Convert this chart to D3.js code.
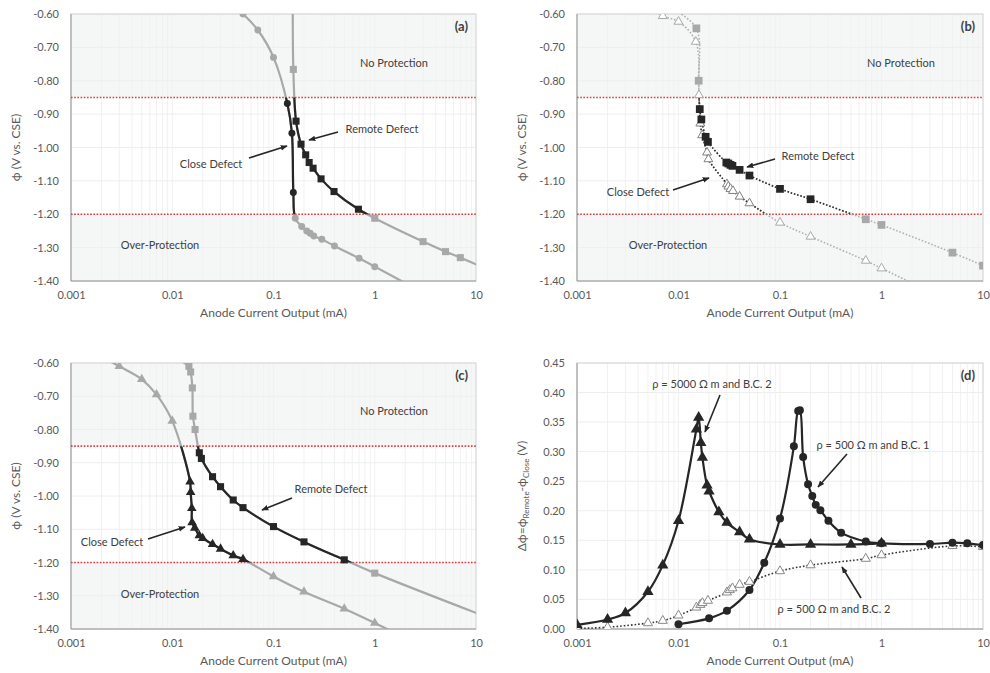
<!DOCTYPE html>
<html><head><meta charset="utf-8">
<script src="https://cdn.jsdelivr.net/npm/d3@7"></script>
<style>
body{margin:0;background:#fff;}
text{font-family:Lato,'Open Sans',sans-serif;}
</style>
</head><body>
<svg id="chart" width="990" height="673"></svg>
<script>
// ---------------- DATA ----------------
const xTicks = [0.001, 0.01, 0.1, 1, 10];
const phiTicks = [-0.6, -0.7, -0.8, -0.9, -1.0, -1.1, -1.2, -1.3, -1.4];
const dphiTicks = [0, 0.05, 0.10, 0.15, 0.20, 0.25, 0.30, 0.35, 0.40, 0.45];
const protectionLimits = [-0.85, -1.20];

// (a)
const aClose = [[0.05,-0.60],[0.07,-0.648],[0.10,-0.730],[0.137,-0.868],[0.152,-0.957],[0.157,-1.135],[0.164,-1.212],[0.19,-1.237],[0.213,-1.250],[0.23,-1.257],[0.25,-1.265],[0.30,-1.275],[0.40,-1.295],[0.70,-1.332],[1.0,-1.357],[2.5,-1.422]];
const aRemote = [[0.155,-0.58],[0.157,-0.766],[0.167,-0.921],[0.187,-0.990],[0.208,-1.022],[0.225,-1.045],[0.246,-1.062],[0.295,-1.094],[0.396,-1.132],[0.69,-1.185],[1.0,-1.212],[3.0,-1.282],[5.0,-1.312],[7.0,-1.330],[13,-1.365]];
// (b)
const bClose = [[0.0056,-0.585],[0.007,-0.606],[0.010,-0.623],[0.0148,-0.683],[0.0159,-0.843],[0.0164,-0.928],[0.0171,-0.963],[0.0191,-1.015],[0.0197,-1.035],[0.030,-1.110],[0.031,-1.117],[0.0325,-1.124],[0.0344,-1.130],[0.040,-1.147],[0.050,-1.167],[0.1,-1.225],[0.2,-1.267],[0.7,-1.339],[1.0,-1.362],[2.5,-1.42]];
const bRemote = [[0.0088,-0.585],[0.015,-0.643],[0.0158,-0.800],[0.0162,-0.885],[0.0168,-0.916],[0.0185,-0.968],[0.0195,-0.983],[0.0296,-1.045],[0.0310,-1.048],[0.0325,-1.052],[0.034,-1.055],[0.040,-1.067],[0.050,-1.084],[0.1,-1.124],[0.2,-1.155],[0.7,-1.215],[1.0,-1.232],[5.0,-1.315],[10,-1.354]];
// (c)
const cClose = [[0.0021,-0.585],[0.003,-0.610],[0.005,-0.649],[0.007,-0.695],[0.010,-0.774],[0.015,-0.957],[0.0152,-0.989],[0.0156,-1.037],[0.0157,-1.080],[0.0167,-1.096],[0.0185,-1.119],[0.020,-1.127],[0.025,-1.145],[0.030,-1.159],[0.040,-1.179],[0.050,-1.190],[0.1,-1.242],[0.2,-1.288],[0.5,-1.339],[1.0,-1.382],[1.8,-1.42]];
const cRemote = [[0.0105,-0.585],[0.0146,-0.610],[0.0152,-0.627],[0.0158,-0.675],[0.016,-0.760],[0.0168,-0.800],[0.0185,-0.870],[0.0194,-0.887],[0.025,-0.942],[0.030,-0.972],[0.040,-1.012],[0.050,-1.035],[0.1,-1.092],[0.2,-1.138],[0.5,-1.192],[1.0,-1.232],[13,-1.365]];
// (d)
const d5000bc2 = [[0.001,0.007],[0.002,0.016],[0.003,0.027],[0.005,0.063],[0.007,0.108],[0.010,0.183],[0.015,0.338],[0.0158,0.358],[0.0166,0.315],[0.0172,0.290],[0.0191,0.243],[0.020,0.233],[0.025,0.198],[0.030,0.180],[0.040,0.164],[0.050,0.152],[0.1,0.143],[0.2,0.143],[0.5,0.143],[1.0,0.145]];
const d500bc1 = [[0.010,0.008],[0.020,0.018],[0.030,0.031],[0.050,0.066],[0.070,0.112],[0.1,0.187],[0.137,0.309],[0.151,0.369],[0.157,0.370],[0.169,0.291],[0.189,0.245],[0.208,0.225],[0.225,0.210],[0.25,0.201],[0.3,0.183],[0.4,0.163],[0.7,0.148],[1.0,0.145],[3.0,0.144],[5.0,0.146],[7.0,0.145],[10,0.142]];
const d500bc2 = [[0.001,0.001],[0.002,0.003],[0.005,0.010],[0.007,0.014],[0.010,0.023],[0.015,0.0365],[0.0164,0.041],[0.0172,0.044],[0.0195,0.048],[0.030,0.062],[0.032,0.066],[0.034,0.069],[0.040,0.075],[0.050,0.080],[0.1,0.098],[0.2,0.108],[0.7,0.119],[1.0,0.125],[5.0,0.1405],[10,0.139]];

// ---------------- DRAW ----------------
const svg = d3.select('#chart');
const GRAY = '#a8a8a8', DARK = '#262626', TXT = '#404040', AX = '#595959';

svg.append('defs').append('marker')
  .attr('id','arrow').attr('viewBox','0 0 10 10').attr('refX',9).attr('refY',5)
  .attr('markerWidth',7).attr('markerHeight',7).attr('markerUnits','userSpaceOnUse')
  .attr('orient','auto')
  .append('path').attr('d','M0,1 L10,5 L0,9 Z').attr('fill',DARK);

const panels = [
  {id:'a', l:71, r:476, t:14, b:281, kind:'phi', label:'(a)'},
  {id:'b', l:577, r:983, t:14, b:281, kind:'phi', label:'(b)'},
  {id:'c', l:71, r:476, t:363, b:629, kind:'phi', label:'(c)'},
  {id:'d', l:577, r:983, t:363, b:629, kind:'dphi', label:'(d)'}
];

function setup(p){
  const g = svg.append('g');
  const x = d3.scaleLog().domain([0.001,10]).range([p.l,p.r]);
  const y = p.kind==='phi' ? d3.scaleLinear().domain([-1.4,-0.6]).range([p.b,p.t])
                           : d3.scaleLinear().domain([0,0.45]).range([p.b,p.t]);
  const defs = svg.select('defs');
  defs.append('clipPath').attr('id','clip-'+p.id).append('rect')
    .attr('x',p.l).attr('y',p.t).attr('width',p.r-p.l).attr('height',p.b-p.t);
  if(p.kind==='phi'){
    defs.append('clipPath').attr('id','band-'+p.id).append('rect')
      .attr('x',p.l).attr('y',y(protectionLimits[0])).attr('width',p.r-p.l)
      .attr('height',y(protectionLimits[1])-y(protectionLimits[0]));
    g.append('rect').attr('x',p.l).attr('y',p.t).attr('width',p.r-p.l).attr('height',p.b-p.t).attr('fill','#f5f7f7');
    g.append('rect').attr('x',p.l).attr('y',y(protectionLimits[0])).attr('width',p.r-p.l)
      .attr('height',y(protectionLimits[1])-y(protectionLimits[0])).attr('fill','#fff');
  }
  // grid
  const minor = [];
  [0.001,0.01,0.1,1].forEach(d=>{for(let k=2;k<=9;k++) minor.push(k*d);});
  const vg = minor.concat(xTicks);
  g.append('g').selectAll('line').data(vg).join('line')
    .attr('x1',d=>x(d)).attr('x2',d=>x(d)).attr('y1',p.t).attr('y2',p.b)
    .attr('stroke','#f1f1f1').attr('stroke-width',1);
  const yt = p.kind==='phi'?phiTicks:dphiTicks;
  g.append('g').selectAll('line').data(yt).join('line')
    .attr('x1',p.l).attr('x2',p.r).attr('y1',d=>y(d)).attr('y2',d=>y(d))
    .attr('stroke','#eeeeee').attr('stroke-width',1);
  // frame
  g.append('rect').attr('x',p.l).attr('y',p.t).attr('width',p.r-p.l).attr('height',p.b-p.t)
    .attr('fill','none').attr('stroke','#d4d4d4');
  g.append('line').attr('x1',p.l).attr('x2',p.l).attr('y1',p.t).attr('y2',p.b).attr('stroke','#9a9a9a');
  g.append('line').attr('x1',p.l).attr('x2',p.r).attr('y1',p.b).attr('y2',p.b).attr('stroke','#9a9a9a');
  // protection limit lines
  if(p.kind==='phi'){
    g.append('g').selectAll('line').data(protectionLimits).join('line')
      .attr('x1',p.l).attr('x2',p.r).attr('y1',d=>y(d)).attr('y2',d=>y(d))
      .attr('stroke','#e23b3b').attr('stroke-width',1.6).attr('stroke-dasharray','1.6,1.6');
  }
  // axes
  const ax = g.append('g').attr('transform',`translate(0,${p.b})`)
    .call(d3.axisBottom(x).tickValues(xTicks).tickFormat(d=>String(d)).tickSize(0).tickPadding(10));
  const ay = g.append('g').attr('transform',`translate(${p.l},0)`)
    .call(d3.axisLeft(y).tickValues(yt).tickFormat(d=>d.toFixed(2)).tickSize(0).tickPadding(12));
  [ax,ay].forEach(a=>{a.select('.domain').remove();
    a.selectAll('text').attr('font-family','Lato, sans-serif').attr('font-size',11).attr('fill',AX);});
  // titles
  g.append('text').attr('x',(p.l+p.r)/2).attr('y',p.b+36).attr('text-anchor','middle')
    .attr('font-size',12).attr('fill',AX).text('Anode Current Output (mA)');
  const cy = (p.t+p.b)/2, tx = p.l-51;
  const yl = g.append('text').attr('transform',`translate(${tx},${cy}) rotate(-90)`)
    .attr('text-anchor','middle').attr('font-size',12).attr('fill',AX);
  if(p.kind==='phi'){ yl.text('ϕ (V vs. CSE)'); }
  else {
    yl.append('tspan').text('Δϕ=ϕ');
    yl.append('tspan').attr('font-size',8).attr('dy',3).text('Remote');
    yl.append('tspan').attr('dy',-3).text('-ϕ');
    yl.append('tspan').attr('font-size',8).attr('dy',3).text('Close');
    yl.append('tspan').attr('dy',-3).text(' (V)');
  }
  g.append('text').attr('x',p.r-8).attr('y',p.t+17).attr('text-anchor','end')
    .attr('font-size',13).attr('font-weight','bold').attr('fill',TXT).text(p.label);
  return {g,x,y};
}

const line = (x,y)=>d3.line().x(d=>x(d[0])).y(d=>y(d[1])).curve(d3.curveCatmullRom.alpha(0.5));

function drawLines(P, pid, pts, o){
  const lg = P.g.append('g').attr('clip-path',`url(#clip-${pid})`);
  lg.append('path').datum(pts).attr('d',line(P.x,P.y)).attr('fill','none')
    .attr('stroke',o.outColor).attr('stroke-width',o.width).attr('stroke-dasharray',o.dash||null);
  if(o.inColor){
    lg.append('g').attr('clip-path',`url(#band-${pid})`).append('path').datum(pts)
      .attr('d',line(P.x,P.y)).attr('fill','none')
      .attr('stroke',o.inColor).attr('stroke-width',o.width).attr('stroke-dasharray',o.dash||null);
  }
}
function drawMarkers(P, pid, pts, o){
  const mg = P.g.append('g').attr('clip-path',`url(#clip-${pid})`);
  const inBand = d => o.banded && d[1] <= protectionLimits[0]+0.001 && d[1] >= protectionLimits[1]-0.001;
  mg.selectAll('path').data(pts).join('path')
    .attr('transform',d=>`translate(${P.x(d[0])},${P.y(d[1])})`)
    .attr('d',d3.symbol().type(o.symbol).size(o.size))
    .attr('fill',d=> o.fill==='band' ? (inBand(d)?DARK:GRAY) : o.fill)
    .attr('stroke',d=> o.stroke==='band' ? (inBand(d)?'#808080':GRAY) : (o.stroke||'none'))
    .attr('stroke-width',o.sw||1);
}

const [pa,pb,pc,pd] = panels;
const A = setup(pa), B = setup(pb), C = setup(pc), D = setup(pd);

// (a)
drawLines(A,'a',aClose,{outColor:GRAY,inColor:DARK,width:2.2});
drawLines(A,'a',aRemote,{outColor:GRAY,inColor:DARK,width:2.2});
drawMarkers(A,'a',aClose,{symbol:d3.symbolCircle,size:38,fill:'band',banded:true});
drawMarkers(A,'a',aRemote,{symbol:d3.symbolSquare,size:50,fill:'band',banded:true});
// (b)
drawLines(B,'b',bClose,{outColor:'#b0b0b0',inColor:'#303030',width:1.6,dash:'1.6,1.8'});
drawLines(B,'b',bRemote,{outColor:'#b0b0b0',inColor:'#303030',width:1.6,dash:'1.6,1.8'});
drawMarkers(B,'b',bClose,{symbol:d3.symbolTriangle,size:34,fill:'#fff',stroke:'band',banded:true,sw:1});
drawMarkers(B,'b',bRemote,{symbol:d3.symbolSquare,size:60,fill:'band',banded:true});
// (c)
drawLines(C,'c',cClose,{outColor:GRAY,inColor:DARK,width:2.2});
drawLines(C,'c',cRemote,{outColor:GRAY,inColor:DARK,width:2.2});
drawMarkers(C,'c',cClose,{symbol:d3.symbolTriangle,size:40,fill:'band',banded:true});
drawMarkers(C,'c',cRemote,{symbol:d3.symbolSquare,size:50,fill:'band',banded:true});
// (d)
drawLines(D,'d',d500bc2,{outColor:'#333',width:1.6,dash:'1.6,2'});
drawLines(D,'d',d5000bc2,{outColor:DARK,width:2.2});
drawLines(D,'d',d500bc1,{outColor:DARK,width:2.2});
drawMarkers(D,'d',d500bc2,{symbol:d3.symbolTriangle,size:36,fill:'#fff',stroke:'#888',sw:1});
drawMarkers(D,'d',d5000bc2,{symbol:d3.symbolTriangle,size:55,fill:DARK});
drawMarkers(D,'d',d500bc1,{symbol:d3.symbolCircle,size:50,fill:DARK});

// ---------------- ANNOTATIONS ----------------
function label(x,y,t){ svg.append('text').attr('x',x).attr('y',y).attr('text-anchor','middle')
  .attr('dominant-baseline','middle').attr('font-size',11).attr('fill',TXT).text(t); }
function arrow(x1,y1,x2,y2){ svg.append('line').attr('x1',x1).attr('y1',y1).attr('x2',x2).attr('y2',y2)
  .attr('stroke',DARK).attr('stroke-width',1.6).attr('marker-end','url(#arrow)'); }

// (a)
label(394,64,'No Protection'); label(382,130,'Remote Defect'); label(211,165,'Close Defect'); label(160,246,'Over-Protection');
arrow(338,132,309,140); arrow(249,158,287,146);
// (b)
label(901,64,'No Protection'); label(818,157,'Remote Defect'); label(638,193,'Close Defect'); label(668,246,'Over-Protection');
arrow(775,159,747,167); arrow(673,190,709,178);
// (c)
label(394,412,'No Protection'); label(331,490,'Remote Defect'); label(112,543,'Close Defect'); label(160,595,'Over-Protection');
arrow(292,498,262,510); arrow(148,539,185,527);
// (d)
label(712,385,'ρ = 5000 Ω m and B.C. 2'); label(873,446,'ρ = 500 Ω m and B.C. 1'); label(834,610,'ρ = 500 Ω m and B.C. 2');
arrow(720,395,705,432); arrow(847,454,818,487); arrow(861,598,842,567);
</script>
</body></html>
